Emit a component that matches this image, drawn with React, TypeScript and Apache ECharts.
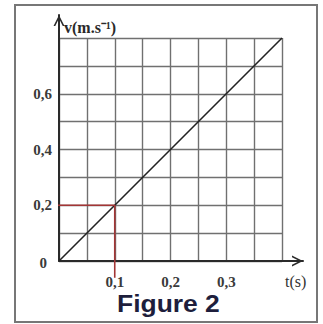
import React, { useEffect, useRef } from "react";
import * as echarts from "echarts";

// straight line v(t)
const tData = [0, 0.4];
const vData = [0, 0.8];
// reading construction (red) at t = 0.1 s, v = 0.2 m/s
const readT = [-0.0125, 0.1, 0.1];
const readV = [0.2, 0.2, -0.06];
// tick labels
const xTickLabels = [0.1, 0.2, 0.3];
const yTickLabels = [0, 0.2, 0.4, 0.6];

const has = (arr: number[], v: number) => arr.some((t) => Math.abs(t - v) < 1e-9);
const fmt = (v: number) => v.toFixed(1).replace(".", ",");

const chevron = "path://M0,10 L5,0 L10,10 L8.4,10 L5,3.2 L1.6,10 Z";

export default function App() {
  const ref = useRef<HTMLDivElement>(null);
  useEffect(() => {
    if (!ref.current) return;
    const chart = echarts.init(ref.current, null, { renderer: "svg" });
    const labelFont = {
      fontFamily: "'Liberation Serif', serif",
      fontWeight: "bold" as const,
      fontSize: 15,
      color: "#3a3a3a",
    };
    const axisLineStyle = { color: "#2a2a2a", width: 2 };
    const gridLine = { show: true, lineStyle: { color: "#707070", width: 1.4 } };
    chart.setOption({
      animation: false,
      backgroundColor: "#ffffff",
      grid: [
        { left: 59, top: 38, width: 223, height: 223 },
        { left: 59, top: 15, right: 20, bottom: 63 },
      ],
      xAxis: [
        {
          gridIndex: 0,
          type: "value",
          min: 0,
          max: 0.4,
          interval: 0.05,
          axisLine: { show: false },
          axisTick: { show: false },
          splitLine: gridLine,
          axisLabel: {
            ...labelFont,
            margin: 13,
            formatter: (v: number) => (has(xTickLabels, v) ? fmt(v) : ""),
          },
        },
        {
          gridIndex: 1,
          type: "value",
          min: 0,
          max: 1,
          axisLine: {
            show: true,
            onZero: false,
            symbol: ["none", chevron],
            symbolSize: [14, 11],
            symbolOffset: [0, -5.5],
            lineStyle: axisLineStyle,
          },
          axisTick: { show: false },
          axisLabel: { show: false },
          splitLine: { show: false },
          name: "t(s)",
          nameLocation: "end",
          nameGap: -18,
          nameTextStyle: {
            ...labelFont,
            fontSize: 16,
            fontWeight: "normal",
            color: "#333",
            align: "left",
            verticalAlign: "top",
            padding: [12, 0, 0, 0],
          },
        },
      ],
      yAxis: [
        {
          gridIndex: 0,
          type: "value",
          min: 0,
          max: 0.8,
          interval: 0.1,
          axisLine: { show: false },
          axisTick: { show: false },
          splitLine: gridLine,
          axisLabel: {
            ...labelFont,
            margin: 7,
            formatter: (v: number) =>
              has(yTickLabels, v) ? (v === 0 ? "{z|0}" : fmt(v)) : "",
            rich: {
              z: { ...labelFont, padding: [4, 5, 0, 0] },
            },
          },
        },
        {
          gridIndex: 1,
          type: "value",
          min: 0,
          max: 1,
          axisLine: {
            show: true,
            onZero: false,
            symbol: ["none", chevron],
            symbolSize: [14, 11],
            symbolOffset: [0, -5.5],
            lineStyle: axisLineStyle,
          },
          axisTick: { show: false },
          axisLabel: { show: false },
          splitLine: { show: false },
          name: "v(m.s⁻¹)",
          nameLocation: "end",
          nameGap: -12,
          nameTextStyle: {
            ...labelFont,
            fontSize: 16,
            color: "#2a2a2a",
            align: "left",
            verticalAlign: "middle",
            padding: [0, 0, 0, 5],
          },
        },
      ],
      series: [
        {
          type: "line",
          xAxisIndex: 0,
          yAxisIndex: 0,
          data: tData.map((t, i) => [t, vData[i]]),
          symbol: "none",
          lineStyle: { color: "#222222", width: 1.6 },
          z: 4,
        },
        {
          type: "line",
          xAxisIndex: 0,
          yAxisIndex: 0,
          clip: false,
          data: readT.map((t, i) => [t, readV[i]]),
          symbol: "none",
          lineStyle: { color: "#a33535", width: 1.6 },
          z: 5,
        },
      ],
      graphic: [
        {
          type: "rect",
          shape: { x: 15, y: 5, width: 302, height: 317 },
          style: { fill: "none", stroke: "#777777", lineWidth: 2 },
          silent: true,
        },
        {
          type: "text",
          x: 117,
          y: 293,
          scaleX: 1.15,
          style: {
            text: "Figure 2",
            font: "bold 23px 'Liberation Sans', Arial, sans-serif",
            fill: "#1e1e3c",
            textVerticalAlign: "top",
          },
        },
      ],
    });
    return () => chart.dispose();
  }, []);
  return (
    <div
      ref={ref}
      style={{ position: "absolute", left: 0, top: 0, width: 323, height: 324 }}
    />
  );
}
